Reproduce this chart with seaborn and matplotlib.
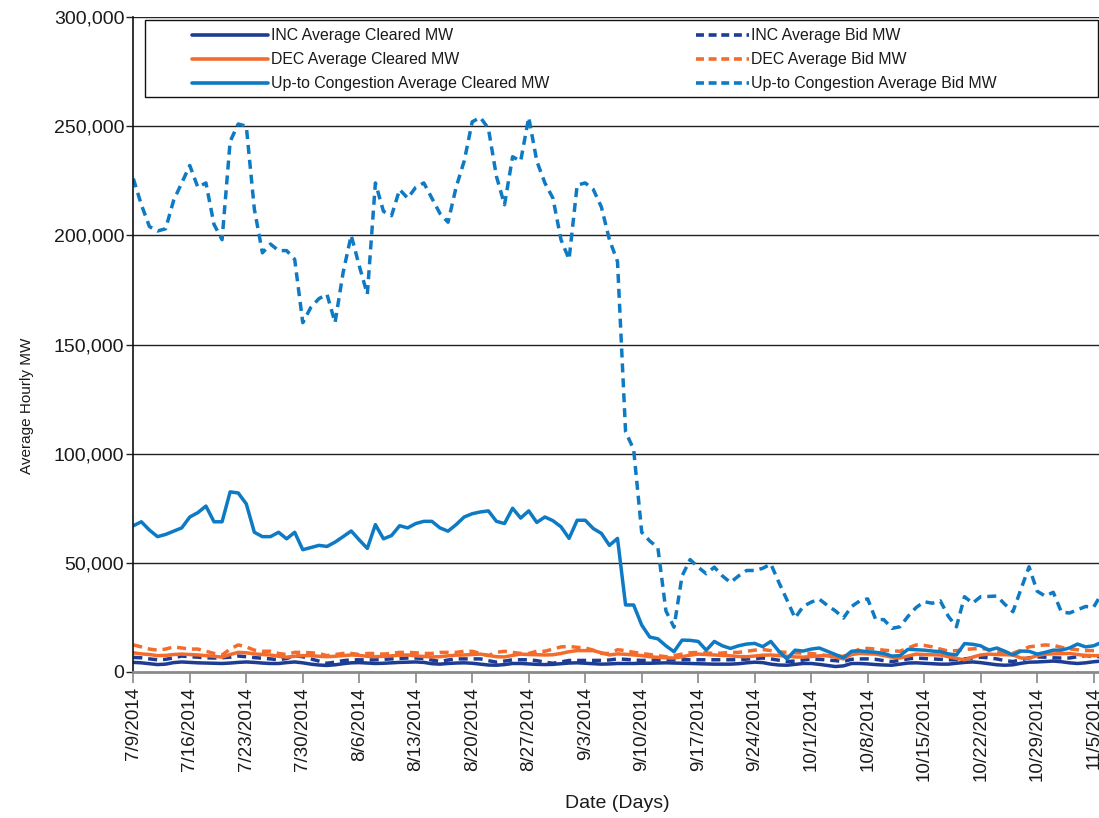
import numpy as np
import pandas as pd
import seaborn as sns
import matplotlib.pyplot as plt
from matplotlib.patches import Rectangle
from matplotlib.lines import Line2D
from matplotlib.ticker import FuncFormatter

# daily values, thousands of MW, 7/9/2014 .. 11/6/2014
start_date = '2014-07-09'

inc_cleared = [4.4, 4.2, 3.8, 3.4, 3.6, 4.3, 4.6, 4.4, 4.2, 4.1, 4.0, 3.9, 4.1, 4.4, 4.6, 4.4, 4.1, 3.9, 3.9, 4.3,
               4.6, 4.2, 3.6, 3.2, 3.0, 3.3, 3.8, 4.2, 4.3, 4.1, 3.9, 4.0, 4.2, 4.4, 4.5, 4.6, 4.4, 3.8, 3.6, 3.9,
               4.1, 4.2, 4.0, 3.6, 3.2, 3.1, 3.4, 3.9, 3.9, 3.7, 3.5, 3.4, 3.5, 3.8, 4.1, 4.2, 4.0, 3.8, 3.6, 3.7,
               3.9, 3.9, 3.9, 4.0, 4.0, 4.1, 4.2, 4.1, 4.0, 3.9, 3.8, 3.7, 3.6, 3.6, 3.6, 3.8, 4.2, 4.5, 4.3, 3.6,
               3.2, 3.1, 3.5, 3.9, 3.9, 3.5, 3.0, 2.5, 2.8, 3.9, 3.9, 3.7, 3.4, 3.2, 3.1, 3.6, 4.1, 4.2, 4.0, 3.8,
               3.6, 3.6, 4.0, 4.4, 4.6, 4.3, 3.8, 3.3, 3.1, 3.3, 4.0, 4.5, 4.6, 4.8, 5.0, 4.7, 4.2, 3.9, 4.2, 4.7,
               5.0]
inc_bid = [6.7, 6.5, 6.0, 5.6, 5.8, 6.5, 7.3, 7.0, 6.8, 6.5, 6.4, 6.5, 6.8, 7.3, 7.0, 6.6, 6.3, 6.0, 5.6, 6.2,
           7.4, 7.0, 6.0, 5.0, 4.0, 4.5, 5.2, 5.6, 5.6, 5.5, 5.6, 5.8, 6.0, 6.2, 6.4, 6.4, 6.2, 5.5, 4.8, 5.5,
           6.0, 6.0, 6.0, 6.0, 5.2, 4.5, 5.0, 5.6, 5.6, 5.6, 5.2, 4.5, 4.0, 4.6, 5.3, 5.3, 5.3, 5.3, 5.3, 5.5,
           6.0, 5.8, 5.5, 5.3, 5.4, 5.5, 5.6, 5.6, 5.6, 5.6, 5.6, 5.6, 5.6, 5.6, 5.6, 5.6, 5.9, 6.2, 6.4, 6.0,
           5.4, 4.8, 5.0, 5.5, 6.0, 5.8, 5.5, 5.2, 4.8, 5.8, 6.0, 6.0, 5.8, 5.2, 4.8, 5.3, 6.0, 6.4, 6.2, 6.0,
           5.8, 5.6, 5.6, 6.0, 6.4, 6.8, 6.5, 6.0, 5.2, 4.8, 5.6, 6.5, 6.9, 6.8, 6.5, 6.4, 6.4, 7.0, 7.5, 7.2,
           7.0]
dec_cleared = [8.8, 8.3, 8.0, 7.5, 7.6, 8.0, 8.2, 8.0, 7.8, 7.5, 7.2, 6.8, 8.0, 9.0, 8.8, 8.3, 8.0, 7.8, 7.2, 6.8,
               7.2, 7.5, 7.5, 7.2, 7.0, 7.2, 7.5, 7.8, 7.6, 7.2, 7.0, 7.2, 7.4, 7.7, 7.8, 7.4, 7.1, 6.9, 7.0, 7.4,
               7.7, 7.8, 8.0, 8.2, 7.6, 7.0, 6.9, 7.6, 8.2, 8.0, 7.9, 7.8, 7.9, 8.5, 9.3, 9.8, 9.8, 9.8, 8.8, 7.8,
               8.3, 8.1, 7.8, 7.5, 7.0, 6.7, 6.5, 6.4, 7.0, 7.7, 8.2, 8.0, 7.8, 7.6, 7.4, 7.1, 7.0, 7.3, 7.7, 7.8,
               7.5, 7.2, 6.9, 6.8, 7.1, 7.4, 7.5, 6.8, 6.0, 8.0, 8.5, 8.3, 8.2, 7.5, 6.8, 6.4, 7.3, 8.2, 8.0, 7.9,
               7.8, 7.0, 6.2, 5.6, 6.8, 7.8, 8.2, 8.0, 7.9, 7.8, 6.4, 6.3, 7.5, 8.2, 8.3, 8.4, 8.5, 8.0, 7.6, 7.5,
               7.5]
dec_bid = [12.4, 11.5, 10.5, 10.0, 10.5, 11.5, 11.0, 10.5, 10.5, 9.5, 8.5, 7.8, 10.5, 12.4, 11.5, 10.0, 9.5, 9.5, 8.5, 8.0,
           9.0, 9.0, 8.8, 8.5, 7.5, 8.0, 8.5, 8.5, 8.0, 8.5, 8.5, 8.2, 8.5, 9.0, 9.0, 8.8, 8.5, 8.5, 9.0, 9.0,
           9.0, 9.5, 9.5, 8.5, 7.5, 9.0, 9.5, 9.0, 8.5, 8.5, 9.5, 9.5, 10.5, 11.5, 11.7, 11.3, 11.0, 10.0, 8.5, 8.5,
           10.2, 9.8, 9.0, 8.5, 8.0, 7.5, 7.0, 7.5, 8.2, 8.8, 9.0, 8.7, 8.5, 8.7, 9.0, 9.0, 9.5, 10.0, 10.3, 9.8,
           9.2, 9.0, 8.8, 8.6, 8.5, 8.0, 7.5, 7.2, 7.2, 8.8, 10.5, 10.8, 10.5, 10.0, 9.7, 9.5, 11.0, 12.4, 12.2, 11.5,
           10.5, 9.6, 9.8, 10.3, 10.6, 10.8, 10.3, 9.5, 8.8, 8.6, 10.0, 11.5, 12.0, 12.4, 12.2, 11.3, 10.6, 10.2, 9.8, 9.8,
           10.0]
utc_cleared = [67.0, 68.8, 65.0, 62.0, 63.0, 64.5, 66.0, 71.0, 73.0, 76.0, 68.8, 68.8, 82.5, 82.0, 77.0, 64.0, 62.0, 62.0, 64.0, 61.0,
               64.0, 56.0, 57.0, 58.0, 57.5, 59.5, 62.0, 64.6, 60.5, 56.6, 67.5, 61.0, 62.5, 67.0, 66.0, 68.0, 69.0, 69.0, 66.0, 64.5,
               67.5, 71.0, 72.5, 73.3, 73.8, 69.0, 68.0, 75.0, 70.5, 73.8, 68.5, 71.0, 69.3, 66.5, 61.2, 69.5, 69.5, 65.7, 63.5, 58.0,
               61.2, 30.7, 30.7, 21.5, 16.0, 15.2, 12.0, 9.3, 14.6, 14.5, 14.0, 10.0, 14.0, 12.0, 10.8, 12.0, 12.8, 13.1, 11.6, 14.0,
               9.5, 6.0, 10.0, 9.6, 10.5, 11.0, 9.5, 8.0, 6.5, 9.5, 9.7, 9.3, 9.0, 8.5, 7.3, 7.5, 10.4, 10.2, 10.0, 9.6,
               9.3, 8.3, 7.8, 13.0, 12.7, 12.0, 10.0, 11.0, 9.5, 7.8, 9.6, 9.5, 8.2, 9.0, 10.0, 10.0, 11.0, 12.8, 11.5, 12.0,
               13.6]
utc_bid = [226, 214, 204, 202, 203, 216, 224, 232, 222, 224, 205, 198, 243, 251, 250, 212, 192, 196, 193, 193,
           189, 160, 167, 171, 173, 160, 183, 200, 186, 173, 224, 211, 209, 221, 217, 222, 224, 217, 210, 206,
           222, 234, 252, 254, 249, 227, 214, 236, 234, 254, 234, 224, 217, 198, 189, 223, 224, 221, 213, 198,
           188, 110, 102, 64, 60, 57, 28, 20.5, 44, 51.5, 48, 45, 48, 44, 41, 44, 46.5, 46.5, 47.5, 49.5,
           41, 33, 24.7, 30, 32, 33.4, 30.5, 28, 24.7, 30, 32.5, 33.5, 24, 24, 20, 20.7, 25.5, 29.5, 32.2, 31.5,
           32.6, 25.5, 20.7, 34.5, 31.5, 34.5, 34.6, 34.8, 31, 27.6, 38, 48.2, 37, 34.8, 36.5, 27.5, 27, 28.5, 30, 29.7,
           36]

series_names = ['INC Average Cleared MW', 'DEC Average Cleared MW', 'Up-to Congestion Average Cleared MW',
                'INC Average Bid MW', 'DEC Average Bid MW', 'Up-to Congestion Average Bid MW']
series_vals = [inc_cleared, dec_cleared, utc_cleared, inc_bid, dec_bid, utc_bid]

c_inc = '#1d3c94'
c_dec = '#f36c2b'
c_utc = '#0e7ac4'
series_colors = [c_inc, c_dec, c_utc, c_inc, c_dec, c_utc]
series_dashed = [False, False, False, True, True, True]

dates = pd.date_range(start_date, periods=len(utc_bid), freq='D')

sns.set_style('white')
plt.rcParams['font.family'] = ['Liberation Sans', 'DejaVu Sans']
txt = '#1a1a1a'

fig = plt.figure(figsize=(10.99, 8.18), dpi=100)
ax = fig.add_axes([133.3 / 1099, 1 - 672 / 818, 968.4 / 1099, 655 / 818])

# draw order: small series first, up-to congestion on top
for i in [3, 4, 0, 1, 5, 2]:
    vals = np.array(series_vals[i]) * 1000
    if series_dashed[i]:
        sns.lineplot(x=dates, y=vals, ax=ax, color=series_colors[i], linewidth=2.5,
                     linestyle=(0, (2.6, 1.7)))
    else:
        sns.lineplot(x=dates, y=vals, ax=ax, color=series_colors[i], linewidth=2.5)

ax.set_ylim(0, 300000)
ax.set_xlim(dates[0], dates[-1])
ax.set_yticks(np.arange(0, 300001, 50000))
ax.yaxis.set_major_formatter(FuncFormatter(lambda v, p: f'{v:,.0f}'))
for yv in range(50000, 300001, 50000):
    ax.axhline(yv, color='#222222', linewidth=1.0, zorder=0.5)

tick_dates = dates[::7]
ax.set_xticks(tick_dates)
ax.set_xticklabels([f'{d.month}/{d.day}/{d.year}' for d in tick_dates], rotation=90,
                   fontsize=13.5, color=txt)
ax.tick_params(axis='x', direction='out', length=8, width=1.2, color='#888888', pad=3, bottom=True)
ax.tick_params(axis='y', direction='out', length=5, width=1, color='#222222', labelsize=14,
               labelcolor=txt, pad=1.5, left=True)

for s in ['top', 'right']:
    ax.spines[s].set_visible(False)
ax.spines['left'].set_color('#111111')
ax.spines['left'].set_linewidth(1.2)
ax.spines['bottom'].set_color('#8a8a8a')
ax.spines['bottom'].set_linewidth(2)

ax.set_xlabel('Date (Days)', fontsize=14, color=txt)
ax.set_ylabel('Average Hourly MW', fontsize=11, color=txt)
ax.xaxis.set_label_coords(0.5, -0.188)
ax.yaxis.set_label_coords(-0.103, 0.406)

# legend: framed box with two columns
fig.add_artist(Rectangle((145 / 1099, 1 - 97 / 818), (1098 - 145) / 1099, 77 / 818,
                         transform=fig.transFigure, facecolor='white', edgecolor='#111111',
                         linewidth=1.0, zorder=5))
handles = []
for i in range(6):
    ls = (0, (2.2, 1.3)) if series_dashed[i] else '-'
    handles.append(Line2D([], [], color=series_colors[i], linewidth=2.6, linestyle=ls))

leg_font = {'size': 11.4}
leg1 = fig.legend(handles[:3], series_names[:3], loc='upper left',
                  bbox_to_anchor=(186 / 1099, 1 - 22 / 818), frameon=False,
                  prop=leg_font, handlelength=4.8, handletextpad=0.15,
                  labelspacing=0.56, borderaxespad=0, labelcolor=txt)
leg1.set_zorder(6)
leg2 = fig.legend(handles[3:], series_names[3:], loc='upper left',
                  bbox_to_anchor=(690 / 1099, 1 - 22 / 818), frameon=False,
                  prop=leg_font, handlelength=3.3, handletextpad=0.15,
                  labelspacing=0.56, borderaxespad=0, labelcolor=txt)
leg2.set_zorder(6)

fig.savefig('out.png', dpi=100)
